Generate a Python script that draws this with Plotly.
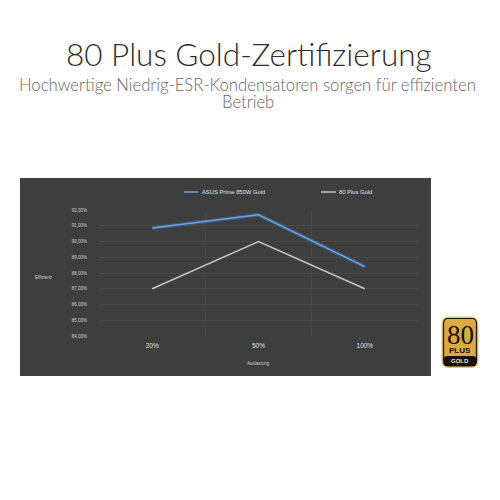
import plotly.graph_objects as go

categories = ["20%", "50%", "100%"]
asus_values = [90.86, 91.7, 88.4]
gold_values = [87.0, 90.0, 87.0]
tick_values = [92, 91, 90, 89, 88, 87, 86, 85, 84]
tick_labels = ["92,00%", "91,00%", "90,00%", "89,00%", "88,00%", "87,00%", "86,00%", "85,00%", "84,00%"]
series_names = ["ASUS Prime 850W Gold", "80 Plus Gold"]

W = H = 500
L, R, T, B = 99, 418, 210, 336
BLUE, GRAY = "#6aa5dc", "#c8c6c4"


def px(x):
    return (x - L) / (R - L)


def py(y):
    return (B - y) / (B - T)


def rounded(x0, y0, x1, y1, r):
    a, b, c, d = px(x0), py(y0), px(x1), py(y1)
    rx = r / (R - L)
    ry = r / (B - T)
    return (f"M{a+rx},{b} L{c-rx},{b} Q{c},{b} {c},{b-ry} L{c},{d+ry} Q{c},{d} {c-rx},{d} "
            f"L{a+rx},{d} Q{a},{d} {a},{d+ry} L{a},{b-ry} Q{a},{b} {a+rx},{b} Z")


fig = go.Figure()
fig.add_trace(go.Scatter(x=categories, y=asus_values, mode="lines", showlegend=False, hoverinfo="skip",
                         line=dict(color="rgba(60,110,170,0.55)", width=4)))
fig.add_trace(go.Scatter(x=categories, y=asus_values, mode="lines", name=series_names[0],
                         line=dict(color=BLUE, width=1.5)))
fig.add_trace(go.Scatter(x=categories, y=gold_values, mode="lines", name=series_names[1],
                         line=dict(color=GRAY, width=1.5)))


def swatch(x0, x1, y, color):
    return dict(type="line", xref="paper", yref="paper", x0=px(x0), x1=px(x1), y0=py(y), y1=py(y),
                line=dict(color=color, width=1.5))


shapes = [
    dict(type="rect", xref="paper", yref="paper", layer="below", x0=px(20), x1=px(431), y0=py(178), y1=py(376),
         fillcolor="#3e3e3e", line=dict(width=0)),
    swatch(184, 198, 192, BLUE),
    swatch(321, 336, 192, GRAY),
    dict(type="path", xref="paper", yref="paper", path=rounded(441.5, 316.5, 478.5, 368, 7),
         fillcolor="#e8c672", line=dict(width=0)),
    dict(type="path", xref="paper", yref="paper", path=rounded(443.5, 318.5, 476.5, 366, 5),
         fillcolor="#dca945", line=dict(color="#1a1408", width=1.2)),
    dict(type="path", xref="paper", yref="paper", path=rounded(444, 356, 476, 366, 3),
         fillcolor="#15100a", line=dict(width=0)),
]


def note(text, x, y, size, color, family="Lato", weight=None, ax="center"):
    return dict(text=text, xref="paper", yref="paper", x=px(x), y=py(y), xanchor=ax, yanchor="middle",
                showarrow=False, font=dict(size=size, color=color, family=family, weight=weight))


annotations = [
    note("80 Plus Gold-Zertifizierung", 249, 54, 31.5, "#2e2e2e", weight=300),
    note("Hochwertige Niedrig-ESR-Kondensatoren sorgen für effizienten", 247.5, 85, 16.7, "#666666", weight=300),
    note("Betrieb", 247.5, 102, 16.7, "#666666", weight=300),
    note(series_names[0], 200, 192, 5.8, "#e4e4e4", "Liberation Sans", ax="left"),
    note(series_names[1], 337, 192, 5.8, "#e4e4e4", "Liberation Sans", ax="left"),
    note("Effizienz", 44, 277, 4.5, "#d0d0d0", "Liberation Sans"),
    note("Auslastung", 258, 363, 4.5, "#d0d0d0", "Liberation Sans"),
    note("80", 460, 335, 27, "#15100a", "Liberation Sans Narrow"),
    note("PLUS", 460, 350.5, 8, "#15100a", "Liberation Sans", weight=700),
    note("GOLD", 460, 361, 6, "#f2e4b8", "Liberation Sans", weight=700),
]

fig.update_layout(
    width=W, height=H, autosize=False, showlegend=False,
    margin=dict(l=L, r=W - R, t=T, b=H - B, pad=0),
    paper_bgcolor="white", plot_bgcolor="#3e3e3e",
    font=dict(family="Liberation Sans", color="#d8d8d8"),
    shapes=shapes, annotations=annotations,
    xaxis=dict(type="category", categoryorder="array", categoryarray=categories, range=[-0.5, 2.5],
               tickson="boundaries", showgrid=True, gridcolor="#464646", gridwidth=0.5, zeroline=False,
               showline=False, tickfont=dict(size=6.5, color="#e0e0e0"), ticks="", ticklabelstandoff=4),
    yaxis=dict(range=[84, 92], tickvals=tick_values, ticktext=tick_labels, showgrid=True,
               gridcolor="#484848", gridwidth=0.5, zeroline=False, showline=False,
               tickfont=dict(size=4.5, color="#d0d0d0"), ticks="", ticklabelstandoff=11),
)

fig.write_html("out.html", config={"displayModeBar": False}, post_script="document.body.style.margin='0';")
